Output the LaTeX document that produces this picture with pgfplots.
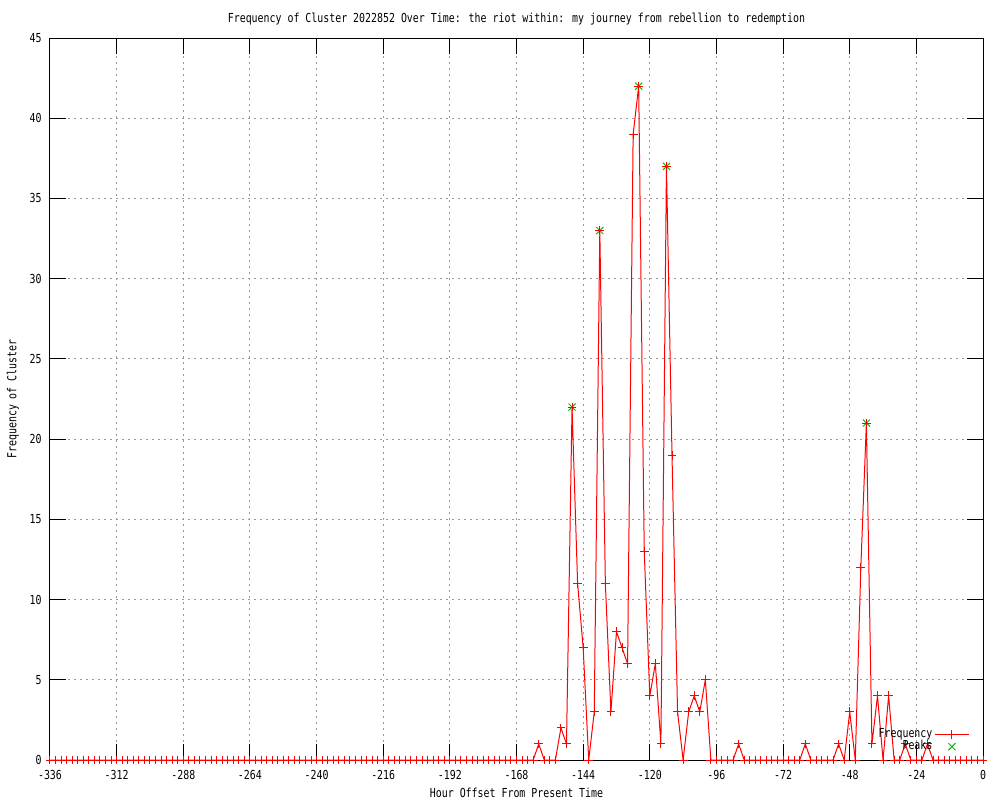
\documentclass[border=0pt]{standalone}
\usepackage{pgfplots}
\pgfplotsset{compat=1.18}
\usepackage{fontspec}
\newfontfamily\gp[FakeStretch=0.8]{DejaVu Sans Mono}
\newcommand\gpf{\gp\fontsize{6.2pt}{7pt}\selectfont}
\definecolor{gpred}{RGB}{255,0,0}
\definecolor{gpgreen}{RGB}{0,192,0}
\begin{document}
\begin{tikzpicture}
\path[use as bounding box] (-25pt,-20pt) rectangle (475pt,380pt);
\begin{axis}[at={(0,0)}, anchor=south west,
 scale only axis, width=466.5pt, height=361pt,
 xmin=-336, xmax=0, ymin=0, ymax=45,
 xtick={-336,-312,-288,-264,-240,-216,-192,-168,-144,-120,-96,-72,-48,-24,0},
 xticklabels={-336,-312,-288,-264,-240,-216,-192,-168,-144,-120,-96,-72,-48,-24,0},
 ytick={0,5,10,15,20,25,30,35,40,45},
 yticklabels={0,5,10,15,20,25,30,35,40,45},
 tick align=inside, major tick length=8pt,
 tick style={black, line width=0.5pt},
 axis line style={black, line width=0.5pt},
 grid=major,
 major grid style={gray!80, line width=0.5pt, dash pattern=on 1pt off 2pt},
 xticklabel style={font=\gpf, anchor=north, inner sep=0pt, yshift=-5pt},
 yticklabel style={font=\gpf, anchor=east, inner sep=0pt, xshift=-4pt},
 title={Frequency of Cluster 2022852 Over Time: the riot within: my journey from rebellion to redemption},
 title style={font=\gpf, at={(axis description cs:0.5,1.0097)}, anchor=center},
 xlabel={Hour Offset From Present Time},
 xlabel style={font=\gpf, at={(axis description cs:0.5,-0.0457)}, anchor=center},
 ylabel={Frequency of Cluster},
 ylabel style={font=\gpf, at={(axis description cs:-0.0397,0.5)}, anchor=center},
 legend plot pos=right, legend cell align=right, reverse legend,
 legend style={at={(axis description cs:0.986,0.0065)}, anchor=south east,
   draw=none, fill=none, font=\gpf, inner sep=0pt, row sep=-2pt,
   nodes={inner sep=1pt}},
]
\addplot[only marks, mark=x, gpgreen, mark size=2.5pt, mark options={gpgreen, solid, line width=0.5pt}]
 coordinates {(-148,22) (-138,33) (-124,42) (-114,37) (-42,21)};
\addlegendentry{Peaks}
\addplot[gpred, line width=0.5pt, mark=+, mark size=2.2pt, mark options={gpred, solid, line width=0.5pt}]
 coordinates {
 (-336,0) (-334,0) (-332,0) (-330,0) (-328,0) (-326,0) (-324,0) (-322,0) (-320,0) (-318,0)
 (-316,0) (-314,0) (-312,0) (-310,0) (-308,0) (-306,0) (-304,0) (-302,0) (-300,0) (-298,0)
 (-296,0) (-294,0) (-292,0) (-290,0) (-288,0) (-286,0) (-284,0) (-282,0) (-280,0) (-278,0)
 (-276,0) (-274,0) (-272,0) (-270,0) (-268,0) (-266,0) (-264,0) (-262,0) (-260,0) (-258,0)
 (-256,0) (-254,0) (-252,0) (-250,0) (-248,0) (-246,0) (-244,0) (-242,0) (-240,0) (-238,0)
 (-236,0) (-234,0) (-232,0) (-230,0) (-228,0) (-226,0) (-224,0) (-222,0) (-220,0) (-218,0)
 (-216,0) (-214,0) (-212,0) (-210,0) (-208,0) (-206,0) (-204,0) (-202,0) (-200,0) (-198,0)
 (-196,0) (-194,0) (-192,0) (-190,0) (-188,0) (-186,0) (-184,0) (-182,0) (-180,0) (-178,0)
 (-176,0) (-174,0) (-172,0) (-170,0) (-168,0) (-166,0) (-164,0) (-162,0) (-160,1) (-158,0)
 (-156,0) (-154,0) (-152,2) (-150,1) (-148,22) (-146,11) (-144,7) (-142,0) (-140,3) (-138,33)
 (-136,11) (-134,3) (-132,8) (-130,7) (-128,6) (-126,39) (-124,42) (-122,13) (-120,4) (-118,6)
 (-116,1) (-114,37) (-112,19) (-110,3) (-108,0) (-106,3) (-104,4) (-102,3) (-100,5) (-98,0)
 (-96,0) (-94,0) (-92,0) (-90,0) (-88,1) (-86,0) (-84,0) (-82,0) (-80,0) (-78,0)
 (-76,0) (-74,0) (-72,0) (-70,0) (-68,0) (-66,0) (-64,1) (-62,0) (-60,0) (-58,0)
 (-56,0) (-54,0) (-52,1) (-50,0) (-48,3) (-46,0) (-44,12) (-42,21) (-40,1) (-38,4)
 (-36,0) (-34,4) (-32,0) (-30,0) (-28,1) (-26,0) (-24,0) (-22,0) (-20,1) (-18,0)
 (-16,0) (-14,0) (-12,0) (-10,0) (-8,0) (-6,0) (-4,0) (-2,0) (0,0)
 };
\addlegendentry{Frequency}
\end{axis}
\end{tikzpicture}
\end{document}
